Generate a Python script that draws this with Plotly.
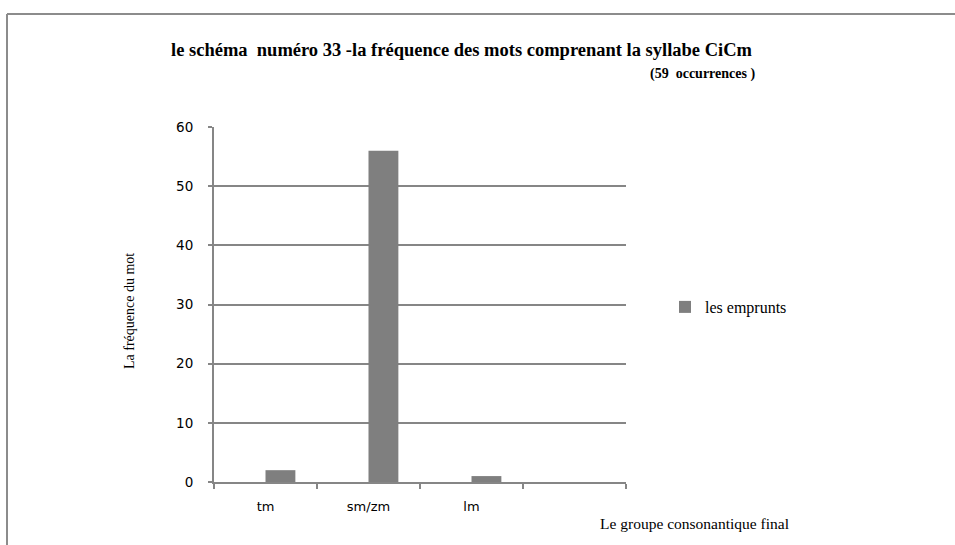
import plotly.graph_objects as go

# Data
categories = ["tm", "sm/zm", "lm", " "]
series_name = "les emprunts"
values = [2, 56, 1]
y_ticks = [0, 10, 20, 30, 40, 50, 60]

title_line1 = "le schéma\u00a0 numéro 33 -la fréquence des mots comprenant la syllabe CiCm"
title_line2 = "(59\u00a0 occurrences )"
y_title = "La fréquence du mot"
x_title = "Le groupe consonantique final"

W, H = 955, 545
L, R, T, B = 214, 329, 127, 63
PW, PH = W - L - R, H - T - B

def px(x):
    return (x - L) / PW

def py(y):
    return (H - B - y) / PH

GRAY = "#868686"
BAR = "#7f7f7f"
SERIF = "Liberation Serif, Times New Roman, serif"
SANS = "DejaVu Sans, Verdana, sans-serif"

fig = go.Figure()
fig.add_trace(go.Bar(
    x=categories[:len(values)],
    y=values,
    name=series_name,
    marker=dict(color=BAR, line=dict(width=0)),
    width=0.29,
    offset=0,
    showlegend=True,
))

fig.update_layout(
    width=W, height=H,
    margin=dict(l=L, r=R, t=T, b=B, autoexpand=False),
    paper_bgcolor="white",
    plot_bgcolor="white",
    showlegend=True,
    legend=dict(
        x=px(665), y=py(307), xanchor="left", yanchor="middle",
        font=dict(family=SERIF, size=16, color="#000"),
        bgcolor="rgba(0,0,0,0)",
        itemwidth=30,
    ),
    xaxis=dict(
        type="category",
        categoryorder="array",
        categoryarray=categories,
        range=[-0.5, len(categories) - 0.5],
        tickson="boundaries",
        ticks="outside", ticklen=5, tickwidth=2, tickcolor=GRAY,
        showline=True, linecolor=GRAY, linewidth=2,
        showgrid=False, zeroline=False,
        tickfont=dict(family=SANS, size=13, color="#000"),
        ticklabelstandoff=11,
        fixedrange=True,
    ),
    yaxis=dict(
        range=[0, 60],
        tickvals=y_ticks,
        ticks="outside", ticklen=4, tickwidth=2, tickcolor=GRAY,
        showline=True, linecolor=GRAY, linewidth=2,
        showgrid=True, gridcolor=GRAY, gridwidth=2,
        zeroline=False,
        tickfont=dict(family=SANS, size=13.5, color="#000"),
        ticklabelstandoff=12,
        fixedrange=True,
    ),
    shapes=[
        # outer chart frame (top and left edges)
        dict(type="line", xref="paper", yref="paper",
             x0=px(7), x1=px(W + 5), y0=py(14), y1=py(14),
             line=dict(color="#8c8c8c", width=2)),
        dict(type="line", xref="paper", yref="paper",
             x0=px(7), x1=px(7), y0=py(14), y1=py(H + 5),
             line=dict(color="#8c8c8c", width=2)),
    ],
    annotations=[
        dict(text="<b>" + title_line1 + "</b>", xref="paper", yref="paper",
             x=px(461.5), y=py(50), xanchor="center", yanchor="middle",
             showarrow=False, font=dict(family=SERIF, size=18.5, color="#000")),
        dict(text="<b>" + title_line2 + "</b>", xref="paper", yref="paper",
             x=px(757), y=py(74), xanchor="right", yanchor="middle",
             showarrow=False, font=dict(family=SERIF, size=14, color="#000")),
        dict(text=y_title, xref="paper", yref="paper",
             x=px(129), y=py(311), xanchor="center", yanchor="middle",
             textangle=-90, showarrow=False,
             font=dict(family=SERIF, size=14, color="#000")),
        dict(text=x_title, xref="paper", yref="paper",
             x=px(598), y=py(523), xanchor="left", yanchor="middle",
             showarrow=False, font=dict(family=SERIF, size=15.5, color="#000")),
    ],
)

fig.write_html("out.html", config={"displayModeBar": False})
